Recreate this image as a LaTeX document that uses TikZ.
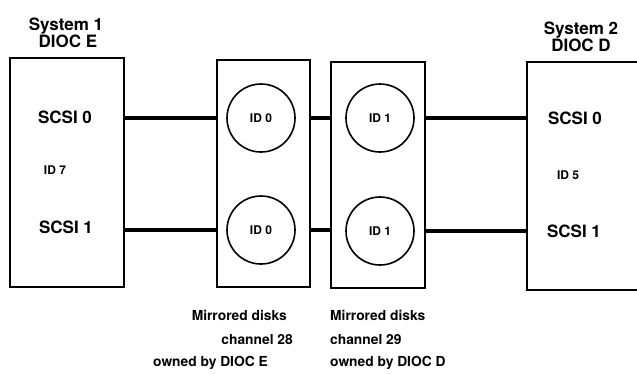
\documentclass[tikz,border=0pt]{standalone}
\usepackage{fontspec}
\setmainfont{TeX Gyre Heros}
\usetikzlibrary{positioning}
\tikzset{box/.style={draw,line width=2pt,inner sep=0pt},
disk/.style={draw,circle,line width=1.6pt,minimum size=68pt,inner sep=0pt,font=\bfseries\fontsize{12}{12}\selectfont},
bus/.style={line width=3.2pt},
big/.style={font=\bfseries\fontsize{17}{20}\selectfont},
small/.style={font=\bfseries\fontsize{12}{12}\selectfont,inner sep=0pt},
caption/.style={font=\bfseries\fontsize{13.8}{14}\selectfont,inner sep=0pt}}

\begin{document}
\begin{tikzpicture}[x=1pt,y=-1pt]
\useasboundingbox (0,0) rectangle (637,373);
% the two hosts
\node[box,minimum width=114pt,minimum height=229pt] (sysA) at (67,172.5) {};
\node[box,minimum width=113pt,minimum height=228pt] (sysB) at (583.5,176) {};
% the two mirror channels
\node[box,minimum width=93pt,minimum height=227pt] (chA) at (263.5,173.5) {};
\node[box,minimum width=94pt,minimum height=226pt] (chB) at (378,175) {};
\foreach \n/\x/\y/\t in {da0/261/118/ID 0,da1/261/230/ID 0,db0/380/118/ID 1,db1/380/231/ID 1}
  \node[disk] (\n) at (\x,\y) {\t};
% buses
\draw[bus] (sysA.east |- da0) -- (chA.west |- da0);
\draw[bus] (chA.east |- da0) -- (chB.west |- da0);
\draw[bus] (chB.east |- db0) -- (sysB.west |- db0);
\draw[bus] (sysA.east |- da1) -- (chA.west |- da1);
\draw[bus] (chA.east |- da1) -- (chB.west |- da1);
\draw[bus] (chB.east |- db1) -- (sysB.west |- db1);
% host labels
\node[big,align=center] (tA) at (66,33) {System 1\\[-3pt]\hspace*{4pt}DIOC E};
\node[big,align=center] (tB) at (581,37) {System 2\\[-3pt]DIOC D};
\node[big] (a0) at (65,117) {SCSI 0};
\node[small] (a7) at (55,170) {ID 7};
\node[big] (a1) at (66,227) {SCSI 1};
\node[big] (b0) at (575,118) {SCSI 0};
\node[small] (b5) at (568,175) {ID 5};
\node[big] (b1) at (574,231) {SCSI 1};
% captions
\node[caption,anchor=east] (cA1) at (287,315) {Mirrored disks};
\node[caption,anchor=east] (cA2) at (293,340) {channel 28};
\node[caption,anchor=east] (cA3) at (268,363) {owned by DIOC E};
\node[caption,anchor=west] (cB1) at (330,315) {Mirrored disks};
\node[caption,anchor=west] (cB2) at (330,340) {channel 29};
\node[caption,anchor=west] (cB3) at (330,363) {owned by DIOC D};
\end{tikzpicture}
\end{document}
